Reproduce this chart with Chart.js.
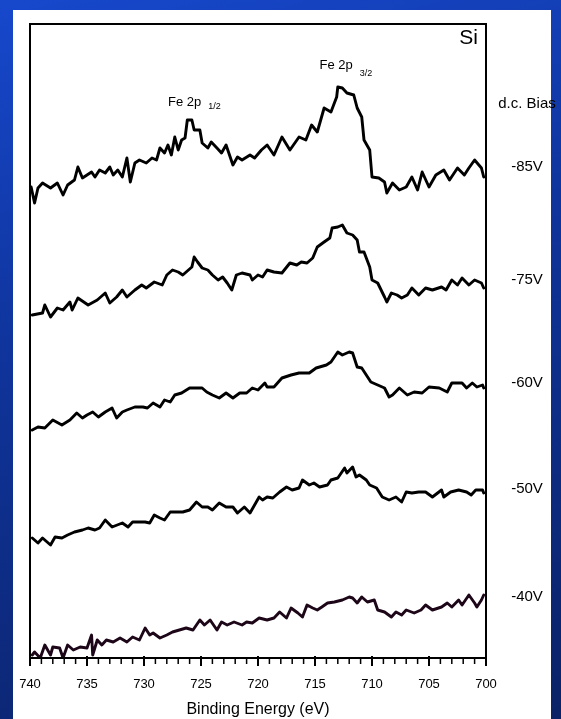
<!DOCTYPE html>
<html>
<head>
<meta charset="utf-8">
<script src="https://cdn.jsdelivr.net/npm/chart.js@4.4.1/dist/chart.umd.min.js"></script>
<style>
  html, body { margin: 0; padding: 0; }
  body {
    width: 561px; height: 719px; overflow: hidden; position: relative;
    background: linear-gradient(165deg, #1748cc 0%, #0f349c 40%, #0b2266 100%);
  }
  #panel { position: absolute; left: 13px; top: 10px; width: 538px; height: 709px; background: #fff; }
  #chart { position: absolute; left: 0; top: 0; }
</style>
</head>
<body>
<div id="panel"></div>
<canvas id="chart" width="561" height="719"></canvas>
<script>
/* Espectros XPS Fe 2p sobre Si para distintos d.c. Bias */

const energyTicks = [740, 735, 730, 725, 720, 715, 710, 705, 700];
const biasLabels = ["-85V", "-75V", "-60V", "-50V", "-40V"];

const energy85 = [739.9,739.6,739.3,738.9,738.2,737.6,737.1,736.7,736.1,735.8,735.4,735.0,734.6,734.3,733.9,733.4,733.0,732.7,732.3,731.9,
  731.5,731.2,730.8,730.4,729.8,729.3,728.9,728.6,728.2,727.9,727.6,727.3,727.0,726.7,726.4,726.2,725.8,725.6,725.1,724.9,
  724.4,724.1,723.6,723.2,722.8,722.2,721.8,721.4,720.7,720.3,719.7,719.2,
  718.6,717.9,717.2,716.4,715.8,715.3,714.8,714.2,713.6,713.1,713.0,712.6,712.2,711.6,711.3,710.9,710.7,710.2,710.0,709.4,
  708.9,708.7,708.2,707.6,707.0,706.5,706.0,705.6,705.0,704.4,703.7,703.2,702.5,701.9,701.5,701.0,700.4,700.2];
const counts85 = [475,459,474,479,474,479,467,477,482,495,484,487,490,485,492,489,495,487,492,485,
  504,480,499,502,499,504,502,514,509,517,507,525,512,522,524,542,542,532,532,519,
  514,520,514,509,517,497,505,502,507,504,512,517,
  507,525,512,525,522,537,530,554,550,565,575,574,569,567,554,545,522,512,485,484,
  480,469,479,472,475,485,472,490,475,487,492,482,494,487,494,502,494,485];

const energy75 = [739.8,738.9,738.7,738.2,737.6,737.1,736.5,736.3,735.8,734.9,734.1,733.4,733.0,732.4,731.9,731.5,730.8,730.2,729.8,729.1,
  728.4,728.0,727.5,727.0,726.6,725.8,725.6,725.3,724.9,724.4,724.0,723.5,723.1,722.7,722.3,721.9,721.4,720.7,720.5,720.0,
  719.6,719.2,
  718.6,717.9,717.2,716.6,716.2,715.7,715.2,714.8,714.2,713.7,713.5,713.0,712.6,712.2,711.7,711.3,711.1,710.7,710.2,710.0,
  709.5,709.2,708.9,708.7,708.3,707.8,707.4,706.9,706.5,705.9,705.3,704.7,703.9,703.5,703.0,702.5,702.1,701.5,701.0,700.4,700.2];
const counts75 = [347,349,357,345,354,352,360,352,364,357,362,369,359,365,372,365,372,377,374,380,
  377,387,392,390,387,395,405,400,394,392,387,382,385,379,372,387,389,387,382,387,
  385,392,
  390,389,399,397,400,399,404,415,420,424,434,435,437,429,427,422,410,410,395,382,
  379,372,365,360,369,367,364,367,374,367,374,372,375,372,382,377,384,377,382,379,374];

const energy60 = [739.8,739.3,738.7,738.0,737.2,736.5,735.9,735.4,735.0,734.5,734.0,733.4,732.8,732.4,731.9,731.5,730.8,730.1,729.7,729.2,
  728.6,728.2,727.7,727.3,726.7,726.0,724.9,724.5,724.0,723.4,722.8,722.2,721.6,721.0,720.5,720.0,719.4,719.2,
  718.6,717.9,717.1,716.4,715.5,714.9,714.0,713.6,713.0,712.6,712.0,711.7,711.3,710.9,710.1,709.5,708.9,708.5,708.2,707.6,
  706.9,706.3,705.6,705.0,704.1,703.4,703.0,702.1,701.7,701.2,700.8,700.3,700.2];
const counts60 = [232,235,234,242,237,242,249,244,247,250,245,250,254,244,250,252,255,255,254,259,
  255,262,260,267,269,274,274,270,267,264,269,264,269,269,274,272,279,275,
  275,284,287,289,289,294,297,300,310,307,310,309,295,294,280,277,274,265,267,274,
  267,270,269,275,274,270,279,279,274,279,275,277,274];

const energy50 = [739.8,739.3,738.9,738.2,737.8,737.2,736.7,736.1,735.4,734.9,734.3,733.9,733.4,732.8,731.9,731.4,731.0,729.9,729.5,729.1,
  728.6,728.2,727.7,727.1,726.6,726.0,725.4,724.9,724.4,724.0,723.4,722.8,722.2,721.8,721.2,720.7,720.3,719.9,719.6,719.2,
  718.7,718.1,717.5,717.0,716.4,716.1,715.5,715.1,714.6,713.9,713.6,713.0,712.4,712.2,711.7,711.4,711.1,710.5,710.2,709.6,
  709.1,708.5,707.9,707.4,707.0,706.5,705.9,705.3,704.7,703.9,703.7,703.1,702.4,701.7,701.3,700.9,700.3,700.2];
const counts50 = [124,119,124,117,125,124,127,130,132,134,132,134,142,135,139,135,140,140,139,147,
  144,142,150,150,150,152,160,155,155,152,159,155,155,149,155,149,157,165,162,165,
  164,170,175,172,174,182,177,179,175,177,182,184,194,189,195,185,187,182,177,174,
  165,162,165,160,170,169,170,170,165,172,165,170,172,170,167,172,172,169];

const energy40 = [739.8,739.6,739.1,738.7,738.2,738.0,737.4,737.1,736.7,736.2,735.6,735.0,734.6,734.5,734.1,733.7,733.3,732.7,732.1,731.5,
  731.0,730.4,729.9,729.5,729.2,728.6,728.0,727.5,726.9,726.3,725.7,725.1,724.7,724.2,723.6,723.2,722.7,722.1,721.4,721.0,
  720.5,719.9,719.2,
  718.6,718.1,717.5,717.1,716.5,716.1,715.7,715.2,714.8,714.4,713.9,713.3,712.6,712.0,711.7,711.3,710.9,710.4,709.8,709.5,
  708.9,708.3,707.9,707.4,707.0,706.3,705.7,705.3,704.7,703.9,703.4,703.0,702.4,702.1,701.5,701.0,700.8,700.4,700.2];
const counts40 = [7,10,4,17,7,15,14,4,17,12,15,14,27,7,22,17,22,20,24,20,
  25,22,34,27,29,24,27,30,32,34,32,42,37,42,32,40,37,40,37,40,
  39,44,42,
  44,50,44,54,49,45,57,54,52,55,59,60,62,65,64,59,65,60,62,52,
  50,45,50,47,52,49,52,57,52,55,59,55,62,57,67,59,55,62,67];

const energies = [energy85, energy75, energy60, energy50, energy40];
const counts = [counts85, counts75, counts60, counts50, counts40];
const lineColors = ['#000000', '#000000', '#000000', '#000000', '#1c0618'];
const fuente = "'Liberation Sans', Arial, sans-serif";

const canvas = document.getElementById("chart").getContext("2d");

const puntos = (e, c) => e.map((x, i) => ({ x: x, y: c[i] }));

const datasets = biasLabels.map((b, i) => ({
  label: b,
  data: puntos(energies[i], counts[i]),
  borderColor: lineColors[i],
  borderWidth: 2.9,
  pointRadius: 0,
  tension: 0,
  fill: false,
  borderJoinStyle: 'round',
  borderCapStyle: 'round'
}));

// etiquetas de los picos (energia del borde izquierdo, intensidad de la linea base)
const picos = [
  { text: "Fe 2p", sub: "1/2", x: 727.9, y: 556, dy: 2.5 },
  { text: "Fe 2p", sub: "3/2", x: 714.6, y: 593, dy: 6.5 }
];

const marco = {
  id: 'marco',
  afterDraw(chart) {
    const ctx = chart.ctx;
    const a = chart.chartArea;
    const xs = chart.scales.x;
    const ys = chart.scales.y;
    ctx.save();

    // marco del grafico
    ctx.strokeStyle = '#000';
    ctx.lineWidth = 2;
    ctx.strokeRect(a.left, a.top, a.right - a.left, a.bottom - a.top);

    // ticks mayores y menores
    for (let v = 700; v <= 740; v++) {
      const px = xs.getPixelForValue(v);
      const mayor = v % 5 === 0;
      ctx.lineWidth = mayor ? 2 : 1.5;
      ctx.beginPath();
      ctx.moveTo(px, a.bottom - (mayor ? 2 : 0));
      ctx.lineTo(px, a.bottom + (mayor ? 8 : 6));
      ctx.stroke();
    }

    ctx.fillStyle = '#000';
    ctx.textBaseline = 'alphabetic';

    // Si
    ctx.font = "21px " + fuente;
    ctx.textAlign = 'right';
    ctx.fillText("Si", a.right - 8, a.top + 20);

    // Fe 2p
    ctx.textAlign = 'left';
    picos.forEach(p => {
      const px = xs.getPixelForValue(p.x);
      const py = ys.getPixelForValue(p.y);
      ctx.font = "13px " + fuente;
      ctx.fillText(p.text, px, py);
      const w = ctx.measureText(p.text).width;
      ctx.font = "9px " + fuente;
      ctx.fillText(p.sub, px + w + 7, py + p.dy);
    });

    // d.c. Bias y voltajes a la derecha
    ctx.textAlign = 'center';
    ctx.font = "15px " + fuente;
    const cx = a.right + 41;
    ctx.fillText("d.c. Bias", cx, a.top + 84);
    biasLabels.forEach((b, i) => {
      const c = counts[i].slice(-5);
      const prom = c.reduce((s, v) => s + v, 0) / c.length;
      ctx.fillText(b, cx, ys.getPixelForValue(prom) + 1);
    });

    ctx.restore();
  }
};

const config = {
  type: 'line',
  data: { datasets: datasets },
  options: {
    responsive: false,
    animation: false,
    devicePixelRatio: 1,
    layout: { padding: { left: 30, right: 75, top: 24, bottom: 0 } },
    plugins: {
      legend: { display: false },
      tooltip: { enabled: false }
    },
    scales: {
      x: {
        type: 'linear',
        reverse: true,
        min: 700,
        max: 740,
        afterFit: (s) => { s.height = 61; s.paddingLeft = 0; s.paddingRight = 0; },
        afterBuildTicks: (s) => { s.ticks = energyTicks.map(v => ({ value: v })); },
        grid: { display: false, drawTicks: false },
        border: { display: false },
        ticks: {
          color: '#000',
          font: { family: fuente, size: 13 },
          padding: 19,
          maxRotation: 0,
          autoSkip: false
        },
        title: {
          display: true,
          text: 'Binding Energy (eV)',
          color: '#000',
          font: { family: fuente, size: 16 },
          padding: { top: 0, bottom: 0 }
        }
      },
      y: {
        display: false,
        min: 4,
        max: 638
      }
    }
  },
  plugins: [marco]
};

const chart = new Chart(canvas, config);
</script>
</body>
</html>
